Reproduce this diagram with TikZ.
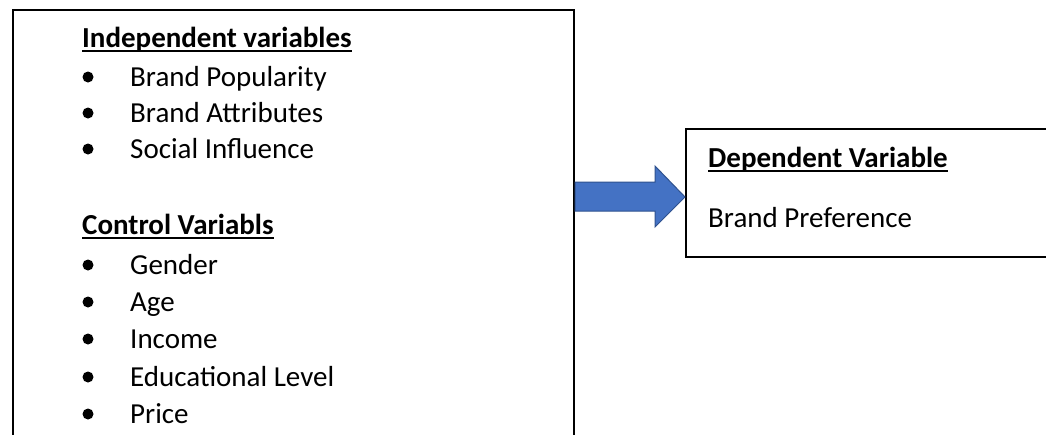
\documentclass[tikz,border=0pt]{standalone}
\usepackage{fontspec}
\setmainfont{Carlito}
\begin{document}
\begin{tikzpicture}[x=1pt,y=-1pt,
  boxline/.style={draw=black,line width=2pt},
  txt/.style={anchor=base west,inner sep=0pt,font=\fontsize{29}{35}\selectfont},
  head/.style={txt,font=\fontsize{29}{35}\selectfont\bfseries},
  bul/.style={circle,fill=black,inner sep=0pt,minimum size=11pt},
  ul/.style={line width=2pt},
  blockarrow/.style={fill=arrowfill,draw=arrowdraw,line width=1pt}]
\definecolor{arrowfill}{HTML}{4472C4}
\definecolor{arrowdraw}{HTML}{2F528F}
\useasboundingbox (0,0) rectangle (1046,434);
\clip (0,0) rectangle (1046,434);
\fill[white] (0,0) rectangle (1046,434);
% left box (open at bottom)
\coordinate (lbl) at (13,450);
\coordinate (lbr) at (574,450);
\draw[boxline] (lbl) -- (13,10) -- (574,10) -- (lbr);
% right box (open at right)
\coordinate (rbt) at (1060,129);
\coordinate (rbb) at (1060,257);
\draw[boxline] (rbt) -- (686,129) -- (686,257) -- (rbb);
% left texts
\node[head] (h1) at (82,47) {Independent variables};
\draw[ul] ([yshift=-4pt]h1.base west) -- ([yshift=-4pt]h1.base east);
\node[txt] (i1) at (130,86) {Brand Popularity};
\node[txt] (i2) at (130,122) {Brand Attributes};
\node[txt] (i3) at (130,158) {Social Influence};
\node[bul] (b1) at (88,77) {};
\node[bul] (b2) at (88,113) {};
\node[bul] (b3) at (88,149) {};
\node[head] (h2) at (82,234) {Control Variabls};
\draw[ul] ([yshift=-4pt]h2.base west) -- ([yshift=-4pt]h2.base east);
\node[txt] (c1) at (130,274) {Gender};
\node[txt] (c2) at (130,311) {Age};
\node[txt] (c3) at (130,348) {Income};
\node[txt] (c4) at (130,386) {Educational Level};
\node[txt] (c5) at (130,423) {Price};
\node[bul] (d1) at (88,265) {};
\node[bul] (d2) at (88,302) {};
\node[bul] (d3) at (88,339) {};
\node[bul] (d4) at (88,377) {};
\node[bul] (d5) at (88,414) {};
% right texts
\node[head] (h3) at (708,167) {Dependent Variable};
\draw[ul] ([yshift=-4pt]h3.base west) -- ([yshift=-4pt]h3.base east);
\node[txt] (r1) at (708,227) {Brand Preference};
% block arrow
\draw[blockarrow] (575,182) -- (655,182) -- (655,166) -- (685,197) -- (655,227) -- (655,211) -- (575,211) -- cycle;
\end{tikzpicture}
\end{document}
